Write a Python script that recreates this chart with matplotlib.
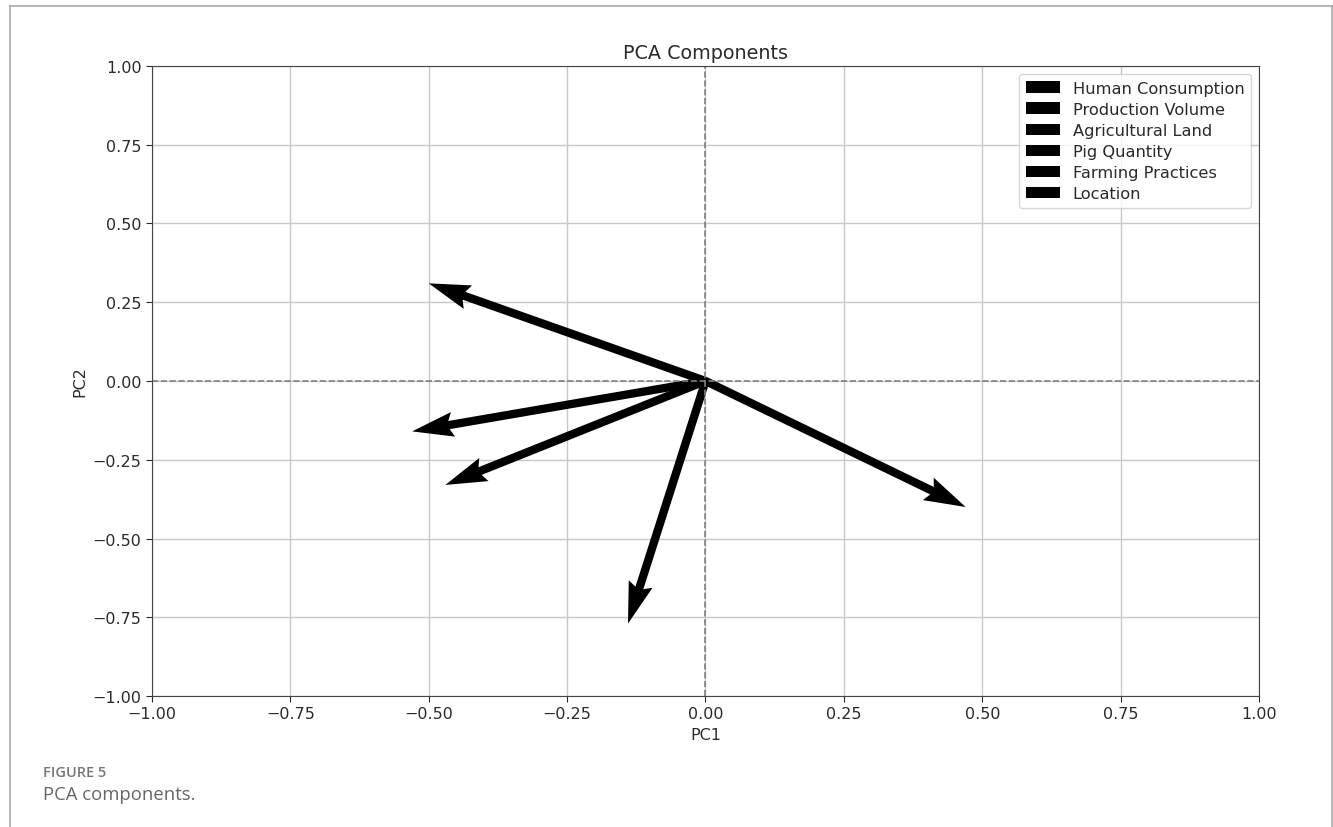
import numpy as np
import matplotlib
matplotlib.use('Agg')
import matplotlib.pyplot as plt
from matplotlib.lines import Line2D

# loadings (PC1, PC2)
features = ['Human Consumption', 'Production Volume', 'Agricultural Land',
            'Pig Quantity', 'Farming Practices', 'Location']
pc1 = [-0.50, -0.53, -0.47, -0.14, 0.47, 0.0]
pc2 = [0.31, -0.16, -0.33, -0.77, -0.40, 0.0]

ticks = [-1.00, -0.75, -0.50, -0.25, 0.00, 0.25, 0.50, 0.75, 1.00]

plt.rcParams['font.family'] = ['DejaVu Sans']
txt = '#2a2a2a'

fig = plt.figure(figsize=(13.33, 8.28), dpi=100)
ax = fig.add_axes([0.114, 0.1582, 0.8305, 0.7609])

for i in range(len(features)):
    ax.quiver(0, 0, pc1[i], pc2[i], angles='xy', scale_units='xy', scale=1,
              color='black', label=features[i])

ax.axhline(0, color='grey', linestyle='--', linewidth=1.2)
ax.axvline(0, color='grey', linestyle='--', linewidth=1.2)

ax.set_xlim(-1, 1)
ax.set_ylim(-1, 1)
ax.set_xticks(ticks)
ax.set_yticks(ticks)
ax.grid(True, color='#c8c8c8', linewidth=1.0)
ax.set_axisbelow(True)
ax.tick_params(labelsize=11.5, colors=txt, length=4)
for s in ax.spines.values():
    s.set_color('#444444')

ax.set_xlabel('PC1', fontsize=11.5, color=txt)
ax.set_ylabel('PC2', fontsize=11.5, color=txt)
ax.set_title('PCA Components', fontsize=13.8, color=txt, pad=6)
leg = ax.legend(loc='upper right', fontsize=11.7, labelcolor=txt,
                labelspacing=0.38, handlelength=2.1)

# light frame around the figure and the caption
fw, fh = 1333, 828
for xs, ys in [([10, 10], [0, fh - 7]), ([10, 1332], [fh - 7, fh - 7]),
               ([1332, 1332], [0, fh - 7])]:
    fig.add_artist(Line2D(np.array(xs) / fw, np.array(ys) / fh,
                          color='#aaaaaa', linewidth=1.2))

fig.text(43 / fw, 1 - 777 / fh, 'FIGURE 5', fontsize=10.5, color='#777777',
         family='Open Sans', fontweight='semibold', va='baseline')
fig.text(43 / fw, 1 - 800 / fh, 'PCA components.', fontsize=13.3,
         color='#666666', family='Open Sans', va='baseline')

fig.savefig('out.png', dpi=100)
